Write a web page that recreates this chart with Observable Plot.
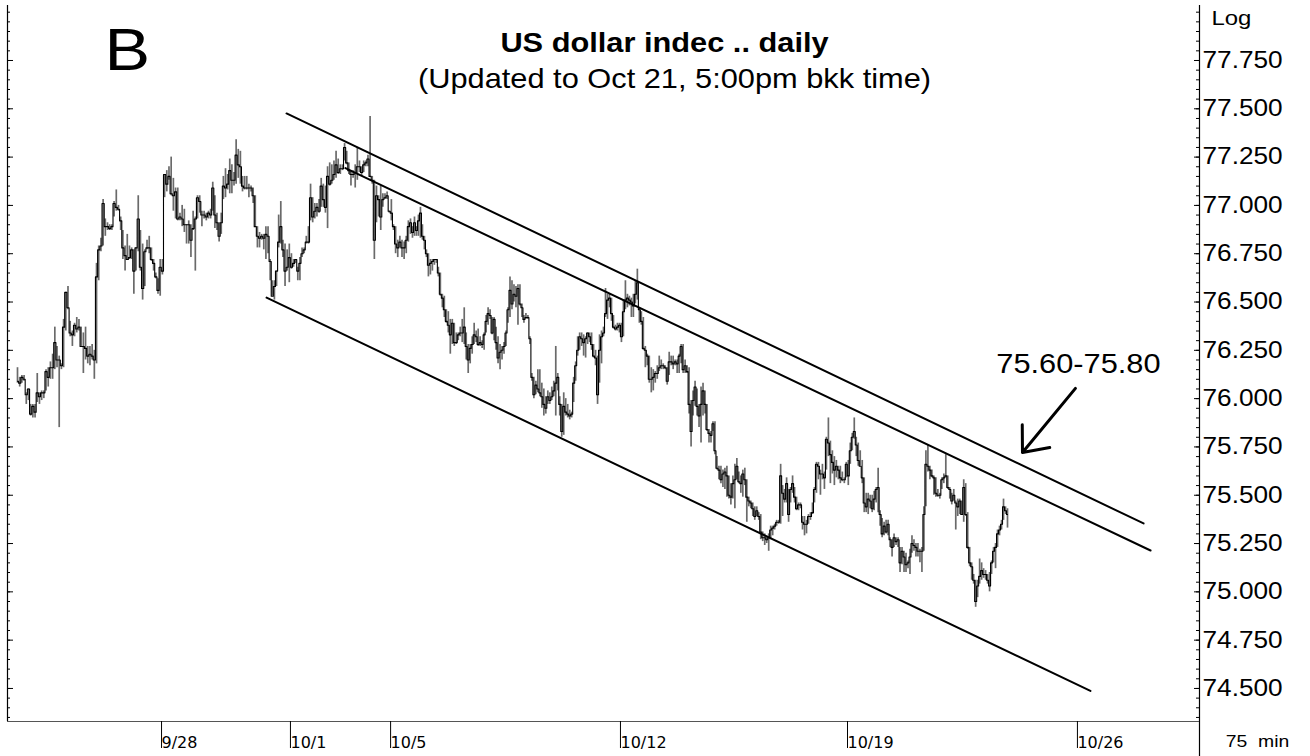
<!DOCTYPE html>
<html><head><meta charset="utf-8">
<script src="https://cdn.jsdelivr.net/npm/d3@7"></script>
<script src="https://cdn.jsdelivr.net/npm/@observablehq/plot@0.6"></script>
<style>
html,body{margin:0;padding:0;background:#fff;}
#chart{width:1310px;height:756px;overflow:hidden;}
</style></head><body><div id="chart"></div>
<script>
// 75-minute bars, US dollar index
const closes = [
76.09,76.08,76.11,76.10,76.02,76.05,75.92,75.96,75.93,76.03,
76.01,76.03,76.03,76.14,76.11,76.16,76.16,76.29,76.20,76.20,
76.17,76.37,76.55,76.47,76.34,76.33,76.38,76.36,76.37,76.27,
76.27,76.26,76.22,76.23,76.22,76.20,76.63,76.77,76.79,77.01,
76.89,76.89,76.88,76.89,77.01,76.99,76.98,76.92,76.78,76.74,
76.72,76.73,76.77,76.66,76.78,76.93,76.68,76.57,76.76,76.78,
76.78,76.72,76.70,76.63,76.56,76.68,76.66,77.16,77.11,77.15,
77.06,77.05,77.07,76.93,76.94,76.93,76.90,76.90,76.90,76.82,
76.88,76.93,77.04,77.02,76.95,76.95,76.94,76.96,
76.95,77.09,76.95,76.91,76.84,76.91,77.10,77.09,77.11,77.18,
77.13,77.13,77.26,77.21,77.20,77.10,77.09,77.09,77.09,77.09,
77.05,76.89,76.84,76.83,76.84,76.83,76.85,76.84,76.71,76.53,
76.58,76.66,76.81,76.89,76.77,76.66,76.68,76.73,76.68,76.70,
76.72,76.66,76.70,76.75,76.77,76.81,76.81,77.04,76.94,76.97,
76.99,76.97,77.10,77.03,76.99,77.15,77.11,77.13,77.16,77.21,
77.17,77.19,77.19,77.30,77.22,77.18,77.16,77.16,77.17,77.20,
77.20,77.17,77.21,77.22,77.24,77.15,77.13,76.82,77.05,77.03,
76.94,77.03,77.04,77.05,76.97,76.96,76.89,76.80,76.78,76.81,
76.78,76.78,76.82,76.89,76.91,
76.86,76.91,76.87,76.92,76.96,76.84,76.82,76.75,76.69,76.70,
76.71,76.72,76.72,76.65,76.54,76.52,76.46,76.40,76.38,76.33,
76.39,76.29,76.29,76.33,76.34,76.34,76.37,76.27,76.20,76.26,
76.28,76.33,76.32,76.28,76.29,76.28,76.33,76.40,76.44,76.43,
76.34,76.41,76.29,76.21,76.24,76.25,76.27,76.34,76.46,76.56,
76.49,76.54,76.53,76.57,76.49,76.47,76.41,76.42,76.42,76.31,
76.11,76.02,76.07,76.05,76.03,76.01,75.97,75.95,76.01,75.99,
76.01,76.04,76.08,76.11,75.97,75.83,75.96,75.93,75.92,75.91,
75.92,76.08,76.17,76.25,76.32,76.31,76.29,76.31,76.34,76.32,
76.28,76.22,76.21,76.02,76.25,76.32,76.34,76.44,76.51,76.52,
76.44,76.37,76.36,76.37,76.38,76.32,76.45,76.51,76.52,76.51,
76.50,76.48,76.54,76.60,76.46,76.40,76.26,76.25,76.22,76.10,
76.10,76.11,76.13,76.13,76.16,76.17,76.17,76.16,76.09,76.19,
76.19,76.18,76.19,76.18,76.22,76.27,76.15,76.17,76.14,75.97,
75.83,75.99,76.06,75.96,75.91,75.97,76.04,75.97,75.84,75.82,
75.81,75.87,75.73,75.64,75.63,75.58,75.61,75.62,75.60,75.50,
75.49,75.56,75.58,75.65,75.57,75.56,75.61,75.58,75.49,75.47,
75.46,75.43,75.39,75.42,75.39,75.31,75.28,75.28,75.27,75.28,
75.32,75.33,75.34,75.36,75.36,75.60,75.51,75.48,75.56,75.40,
75.53,75.56,75.49,75.43,75.45,75.45,75.36,75.35,75.35,75.39,
75.39,75.41,75.53,75.66,75.65,75.61,75.61,75.59,75.79,75.77,
75.71,75.67,75.63,75.65,75.63,75.59,75.58,75.58,75.66,75.60,
75.73,75.80,75.83,75.76,75.68,75.65,75.59,75.46,75.44,75.48,
75.47,75.43,75.48,75.53,75.54,75.40,75.30,75.34,75.31,75.35,
75.27,75.23,75.28,75.26,75.27,75.15,75.21,75.18,75.14,75.15,
75.18,75.25,75.24,75.23,75.21,75.21,75.21,75.40,75.66,75.65,
75.63,75.60,75.59,75.51,75.50,75.50,75.58,75.59,75.60,75.54,
75.53,75.47,75.50,75.46,75.44,75.47,75.40,75.54,75.40,75.23,
75.15,75.13,75.06,74.95,75.03,75.08,75.11,75.09,75.09,75.06,
75.03,75.15,75.21,75.23,75.30,75.32,75.35,75.44,75.42,75.40
];
const highs = [
76.16,76.11,76.12,76.12,76.03,76.05,75.97,75.97,75.97,76.13,
76.03,76.04,76.04,76.15,76.16,76.19,76.23,76.37,76.27,76.22,
76.18,76.41,76.55,76.58,76.40,76.35,76.39,76.42,76.41,76.37,
76.34,76.37,76.27,76.27,76.28,76.25,76.70,76.79,76.83,77.03,
76.93,76.91,76.90,76.90,77.02,77.08,77.00,76.94,76.87,76.79,
76.85,76.79,76.78,76.77,76.78,77.05,76.87,76.80,76.77,76.82,
76.84,76.78,76.72,76.65,76.62,76.72,76.72,77.16,77.18,77.20,
77.25,77.14,77.09,77.09,76.96,77.00,76.98,76.90,76.92,76.90,
76.97,76.94,77.05,77.05,76.97,76.97,76.96,76.97,
76.98,77.12,77.05,76.96,76.91,76.96,77.15,77.19,77.16,77.24,
77.21,77.17,77.34,77.29,77.28,77.15,77.15,77.15,77.11,77.10,
77.09,77.05,76.89,76.86,76.85,76.85,76.89,76.89,76.72,76.61,
76.61,76.66,76.95,77.02,76.82,76.80,76.77,76.80,76.75,76.72,
76.72,76.68,76.73,76.78,76.78,76.84,76.89,77.11,77.04,77.01,
77.01,77.03,77.14,77.11,77.10,77.20,77.22,77.21,77.23,77.28,
77.24,77.21,77.21,77.32,77.28,77.22,77.18,77.18,77.21,77.30,
77.23,77.20,77.23,77.23,77.26,77.46,77.15,77.13,77.10,77.05,
77.10,77.06,77.06,77.07,76.97,77.03,76.90,76.89,76.82,76.84,
76.82,76.81,76.84,76.92,76.93,
76.89,76.94,76.89,76.95,76.99,76.90,76.84,76.77,76.75,76.72,
76.72,76.72,76.72,76.68,76.65,76.54,76.53,76.46,76.45,76.41,
76.41,76.39,76.34,76.34,76.37,76.41,76.47,76.34,76.28,76.28,
76.32,76.39,76.35,76.36,76.32,76.30,76.34,76.43,76.47,76.46,
76.42,76.42,76.37,76.32,76.28,76.27,76.29,76.35,76.47,76.63,
76.61,76.59,76.58,76.59,76.59,76.49,76.43,76.44,76.43,76.32,
76.13,76.11,76.09,76.15,76.15,76.08,76.05,76.01,76.04,76.03,
76.06,76.09,76.27,76.13,76.01,75.97,76.03,76.00,75.97,75.94,
75.93,76.11,76.19,76.32,76.34,76.34,76.33,76.32,76.34,76.34,
76.34,76.28,76.25,76.22,76.33,76.35,76.37,76.57,76.54,76.54,
76.52,76.43,76.38,76.39,76.39,76.39,76.51,76.61,76.54,76.53,
76.52,76.54,76.61,76.67,76.47,76.45,76.42,76.27,76.23,76.22,
76.16,76.15,76.14,76.17,76.22,76.20,76.18,76.17,76.16,76.24,
76.22,76.22,76.20,76.20,76.23,76.28,76.28,76.20,76.17,76.16,
75.99,76.04,76.09,76.05,75.97,76.06,76.08,76.04,75.97,75.84,
75.83,75.88,75.88,75.70,75.65,75.65,75.63,75.64,75.65,75.60,
75.56,75.60,75.66,75.69,75.62,75.60,75.63,75.64,75.58,75.49,
75.47,75.46,75.44,75.44,75.41,75.40,75.31,75.30,75.28,75.30,
75.34,75.34,75.35,75.37,75.37,75.66,75.55,75.53,75.59,75.53,
75.54,75.60,75.54,75.49,75.46,75.46,75.39,75.39,75.37,75.40,
75.41,75.46,75.54,75.67,75.67,75.63,75.66,75.62,75.80,75.90,
75.78,75.73,75.70,75.68,75.65,75.65,75.62,75.59,75.67,75.68,
75.77,75.82,75.90,75.80,75.77,75.73,75.68,75.59,75.51,75.51,
75.50,75.50,75.52,75.54,75.64,75.42,75.38,75.36,75.37,75.37,
75.28,75.27,75.30,75.28,75.28,75.23,75.23,75.21,75.20,75.16,
75.22,75.29,75.27,75.25,75.25,75.22,75.23,75.44,75.73,75.76,
75.65,75.63,75.60,75.59,75.53,75.51,75.59,75.61,75.71,75.60,
75.54,75.51,75.53,75.47,75.48,75.48,75.47,75.58,75.56,75.41,
75.23,75.15,75.09,75.06,75.06,75.17,75.15,75.12,75.11,75.09,
75.10,75.16,75.23,75.25,75.32,75.34,75.37,75.48,75.44,75.43
];
const lows = [
76.08,76.06,76.08,76.09,75.97,75.99,75.91,75.90,75.90,75.98,
75.97,75.99,76.00,76.04,76.06,76.10,76.10,76.15,76.16,75.85,
76.15,76.16,76.35,76.46,76.32,76.27,76.32,76.34,76.35,76.27,
76.13,76.20,76.18,76.17,76.20,76.10,76.18,76.61,76.76,76.79,
76.84,76.87,76.87,76.87,76.94,76.97,76.97,76.87,76.72,76.66,
76.72,76.72,76.72,76.54,76.66,76.76,76.66,76.51,76.58,76.77,
76.75,76.71,76.66,76.62,76.54,76.53,76.64,77.04,77.07,77.13,
77.05,76.97,76.93,76.92,76.92,76.89,76.86,76.80,76.80,76.73,
76.87,76.66,76.93,76.96,76.89,76.93,76.92,76.93,
76.93,76.97,76.88,76.87,76.81,76.85,77.03,77.04,77.08,77.06,
77.06,77.10,77.11,77.14,77.11,77.07,77.08,77.08,77.04,77.07,
77.01,76.89,76.78,76.78,76.82,76.77,76.72,76.75,76.61,76.53,
76.51,76.58,76.78,76.80,76.73,76.58,76.66,76.60,76.67,76.68,
76.70,76.61,76.61,76.73,76.75,76.80,76.80,76.92,76.91,76.93,
76.94,76.96,76.99,76.99,76.96,76.88,77.10,77.11,77.13,77.14,
77.16,77.16,77.18,77.23,77.21,77.16,77.10,77.14,77.09,77.13,
77.17,77.15,77.17,77.20,77.20,77.15,77.11,76.72,76.91,76.94,
76.87,76.99,77.03,77.03,76.96,76.92,76.87,76.75,76.73,76.78,
76.73,76.72,76.75,76.81,76.85,
76.83,76.84,76.84,76.84,76.83,76.82,76.77,76.73,76.63,76.64,
76.66,76.69,76.70,76.63,76.53,76.47,76.42,76.39,76.34,76.23,
76.28,76.27,76.28,76.30,76.32,76.29,76.28,76.20,76.13,76.18,
76.23,76.28,76.29,76.27,76.27,76.26,76.25,76.34,76.38,76.41,
76.33,76.30,76.25,76.18,76.15,76.20,76.23,76.27,76.39,76.42,
76.46,76.50,76.47,76.38,76.48,76.42,76.39,76.41,76.41,76.28,
76.09,76.00,76.02,76.03,76.01,75.95,75.91,75.92,75.97,75.97,
75.99,76.01,75.91,76.04,75.91,75.80,75.81,75.91,75.90,75.89,
75.90,75.98,76.09,76.22,76.25,76.27,76.22,76.21,76.28,76.29,
76.25,76.21,76.17,75.97,76.08,76.18,76.32,76.42,76.41,76.47,
76.40,76.36,76.35,76.35,76.34,76.29,76.32,76.46,76.47,76.48,
76.42,76.42,76.49,76.51,76.39,76.38,76.25,76.16,76.17,76.08,
76.03,76.04,76.08,76.10,76.14,76.15,76.15,76.15,76.07,76.12,
76.17,76.15,76.17,76.13,76.13,76.18,76.13,76.13,76.13,75.92,
75.75,75.91,75.96,75.91,75.85,75.77,75.91,75.92,75.83,75.77,
75.77,75.83,75.71,75.63,75.58,75.56,75.54,75.53,75.49,75.48,
75.45,75.48,75.43,75.58,75.56,75.51,75.49,75.55,75.36,75.44,
75.43,75.39,75.37,75.39,75.37,75.27,75.26,75.24,75.25,75.21,
75.27,75.29,75.32,75.34,75.35,75.35,75.39,75.46,75.46,75.36,
75.46,75.51,75.46,75.42,75.42,75.43,75.32,75.29,75.30,75.35,
75.37,75.40,75.46,75.51,75.58,75.50,75.58,75.53,75.63,75.70,
75.56,75.61,75.55,75.59,75.58,75.56,75.57,75.56,75.59,75.55,
75.66,75.73,75.79,75.70,75.65,75.65,75.56,75.41,75.41,75.40,
75.43,75.41,75.42,75.46,75.41,75.34,75.28,75.29,75.30,75.29,
75.23,75.18,75.23,75.24,75.23,75.10,75.14,75.10,75.10,75.12,
75.09,75.20,75.21,75.18,75.18,75.15,75.10,75.21,75.44,75.62,
75.58,75.59,75.50,75.49,75.49,75.48,75.53,75.56,75.59,75.53,
75.48,75.45,75.47,75.32,75.39,75.40,75.40,75.36,75.39,75.22,
75.13,75.06,75.04,74.92,74.97,75.04,75.06,75.07,75.06,75.04,
75.00,75.09,75.15,75.12,75.23,75.29,75.32,75.37,75.40,75.33
];

// axis ticks
const priceTicks = [74.5, 74.75, 75.0, 75.25, 75.5, 75.75, 76.0, 76.25, 76.5, 76.75, 77.0, 77.25, 77.5, 77.75];
const minorPriceTicks = d3.range(74.35, 78.001, 0.05).map(v => +v.toFixed(2));
const dateLabels = ["9/28", "10/1", "10/5", "10/12", "10/19", "10/26"];
const dateBarIndex = [65.7, 125.6, 172.7, 287.5, 401.6, 517.0]; // bar index where each date begins

// channel lines (bar index, price) and annotation
const upperChannel = [{i: 124.7, v: 77.476}, {i: 551.1, v: 75.354}];
const middleChannel = [{i: 152.4, v: 77.193}, {i: 554.6, v: 75.214}];
const lowerChannel = [{i: 115.3, v: 76.523}, {i: 524.5, v: 74.487}];
const arrowPts = [{i1: 517.0, v1: 76.053, i2: 490.5, v2: 75.721}];
const targetNote = [{i: 518.5, v: 76.177, label: "75.60-75.80"}];

if (closes.length !== highs.length || closes.length !== lows.length) {
  throw new Error(`length mismatch c=${closes.length} h=${highs.length} l=${lows.length}`);
}
const bars = closes.map((c, k) => ({i: k + 1, c, h: highs[k], l: lows[k]}));

const xDomain = [-3.56, 1, 88, 183, 283, 383, 483, 579.1];
const xRange = [7, 17, 208, 410, 609, 808, 1007, 1199];
const yDomain = [74.329, 78.0346];
const labelOf = new Map(dateBarIndex.map((t, k) => [t, dateLabels[k]]));
const sans = "'Liberation Sans', Arial, sans-serif";

const plot = Plot.plot({
  width: 1310,
  height: 756,
  marginLeft: 7,
  marginRight: 111,
  marginTop: 5,
  marginBottom: 35,
  style: {fontFamily: sans, background: "#fff", color: "#000", overflow: "visible"},
  x: {type: "linear", domain: xDomain, range: xRange},
  y: {type: "linear", domain: yDomain},
  marks: [
    // frame
    Plot.ruleX([xDomain[0]], {stroke: "#000", strokeWidth: 1.2}),
    Plot.ruleX([xDomain[xDomain.length - 1]], {stroke: "#000", strokeWidth: 1.2, insetBottom: -35}),
    Plot.ruleY([yDomain[0]], {stroke: "#555", strokeWidth: 1.2}),
    // left inner ticks
    Plot.ruleY(minorPriceTicks, {y: d => d, x1: xDomain[0], x2: xDomain[0], insetRight: -3, stroke: "#000"}),
    Plot.ruleY(priceTicks, {y: d => d, x1: xDomain[0], x2: xDomain[0], insetRight: -6, stroke: "#000"}),
    // right inner ticks
    Plot.ruleY(minorPriceTicks, {y: d => d, x1: xDomain[xDomain.length - 1], x2: xDomain[xDomain.length - 1], insetLeft: -3, stroke: "#000"}),
    Plot.ruleY(priceTicks, {y: d => d, x1: xDomain[xDomain.length - 1], x2: xDomain[xDomain.length - 1], insetLeft: -5, stroke: "#000"}),
    // price axis labels
    Plot.axisY(priceTicks, {anchor: "right", tickSize: 0, tickPadding: 3, tickFormat: d3.format(".3f"), fontSize: 23, fontFamily: sans}),
    // date axis
    Plot.axisX(dateBarIndex, {anchor: "bottom", tickSize: 27, tickPadding: -12, tickFormat: d => labelOf.get(d), textAnchor: "start", dx: 2, fontSize: 16, fontFamily: "'DejaVu Sans', sans-serif", stroke: "#000"}),
    // OHLC bars
    Plot.ruleX(bars, {x: "i", y1: "l", y2: "h", stroke: "#6a6a6a", strokeWidth: 1.7}),
    Plot.line(bars, {x: "i", y: "c", curve: "step", stroke: "#000", strokeWidth: 1.1}),
    // channel
    Plot.line(upperChannel, {x: "i", y: "v", stroke: "#000", strokeWidth: 2}),
    Plot.line(middleChannel, {x: "i", y: "v", stroke: "#000", strokeWidth: 2}),
    Plot.line(lowerChannel, {x: "i", y: "v", stroke: "#000", strokeWidth: 2}),
    // annotation
    Plot.arrow(arrowPts, {x1: "i1", y1: "v1", x2: "i2", y2: "v2", stroke: "#000", strokeWidth: 3, headLength: 22, headAngle: 80}),
    Plot.text(targetNote, {x: "i", y: "v", text: "label", fontSize: 27, textAnchor: "middle", lineAnchor: "middle", fill: "#000"}),
    // titles
    Plot.text(["US dollar indec .. daily"], {text: d => d, frameAnchor: "top", dx: 61, dy: 38, fontSize: 27, fontWeight: "bold", textAnchor: "middle", lineAnchor: "middle", fill: "#000"}),
    Plot.text(["(Updated to Oct 21, 5:00pm bkk time)"], {text: d => d, frameAnchor: "top", dx: 71, dy: 74, fontSize: 27, textAnchor: "middle", lineAnchor: "middle", fill: "#000"}),
    Plot.text(["B"], {text: d => d, frameAnchor: "top-left", dx: 97, dy: 45, fontSize: 60, textAnchor: "start", lineAnchor: "middle", fill: "#000"}),
    Plot.text(["Log"], {text: d => d, frameAnchor: "top-right", dx: 12, dy: 13, fontSize: 21, textAnchor: "start", lineAnchor: "middle", fill: "#000"}),
    Plot.text(["75\u00a0\u00a0min"], {text: d => d, frameAnchor: "bottom-right", dx: 58, dy: 20, fontSize: 17, textAnchor: "middle", lineAnchor: "middle", fill: "#000"})
  ]
});
document.getElementById("chart").append(plot);

// the original's sans-serif lettering is slightly wide: stretch it horizontally about its anchor
plot.querySelectorAll("text").forEach(t => {
  const cs = getComputedStyle(t);
  if (cs.fontFamily.includes("DejaVu")) return;
  const xa = t.getAttribute("x");
  if (xa !== null && xa !== "" && isFinite(+xa) && +xa !== 0) t.setAttribute("x", +xa / 1.14);
  const tr = t.getAttribute("transform") || "";
  t.setAttribute("transform", `${tr} scale(1.14,1)`.trim());
});
</script></body></html>
